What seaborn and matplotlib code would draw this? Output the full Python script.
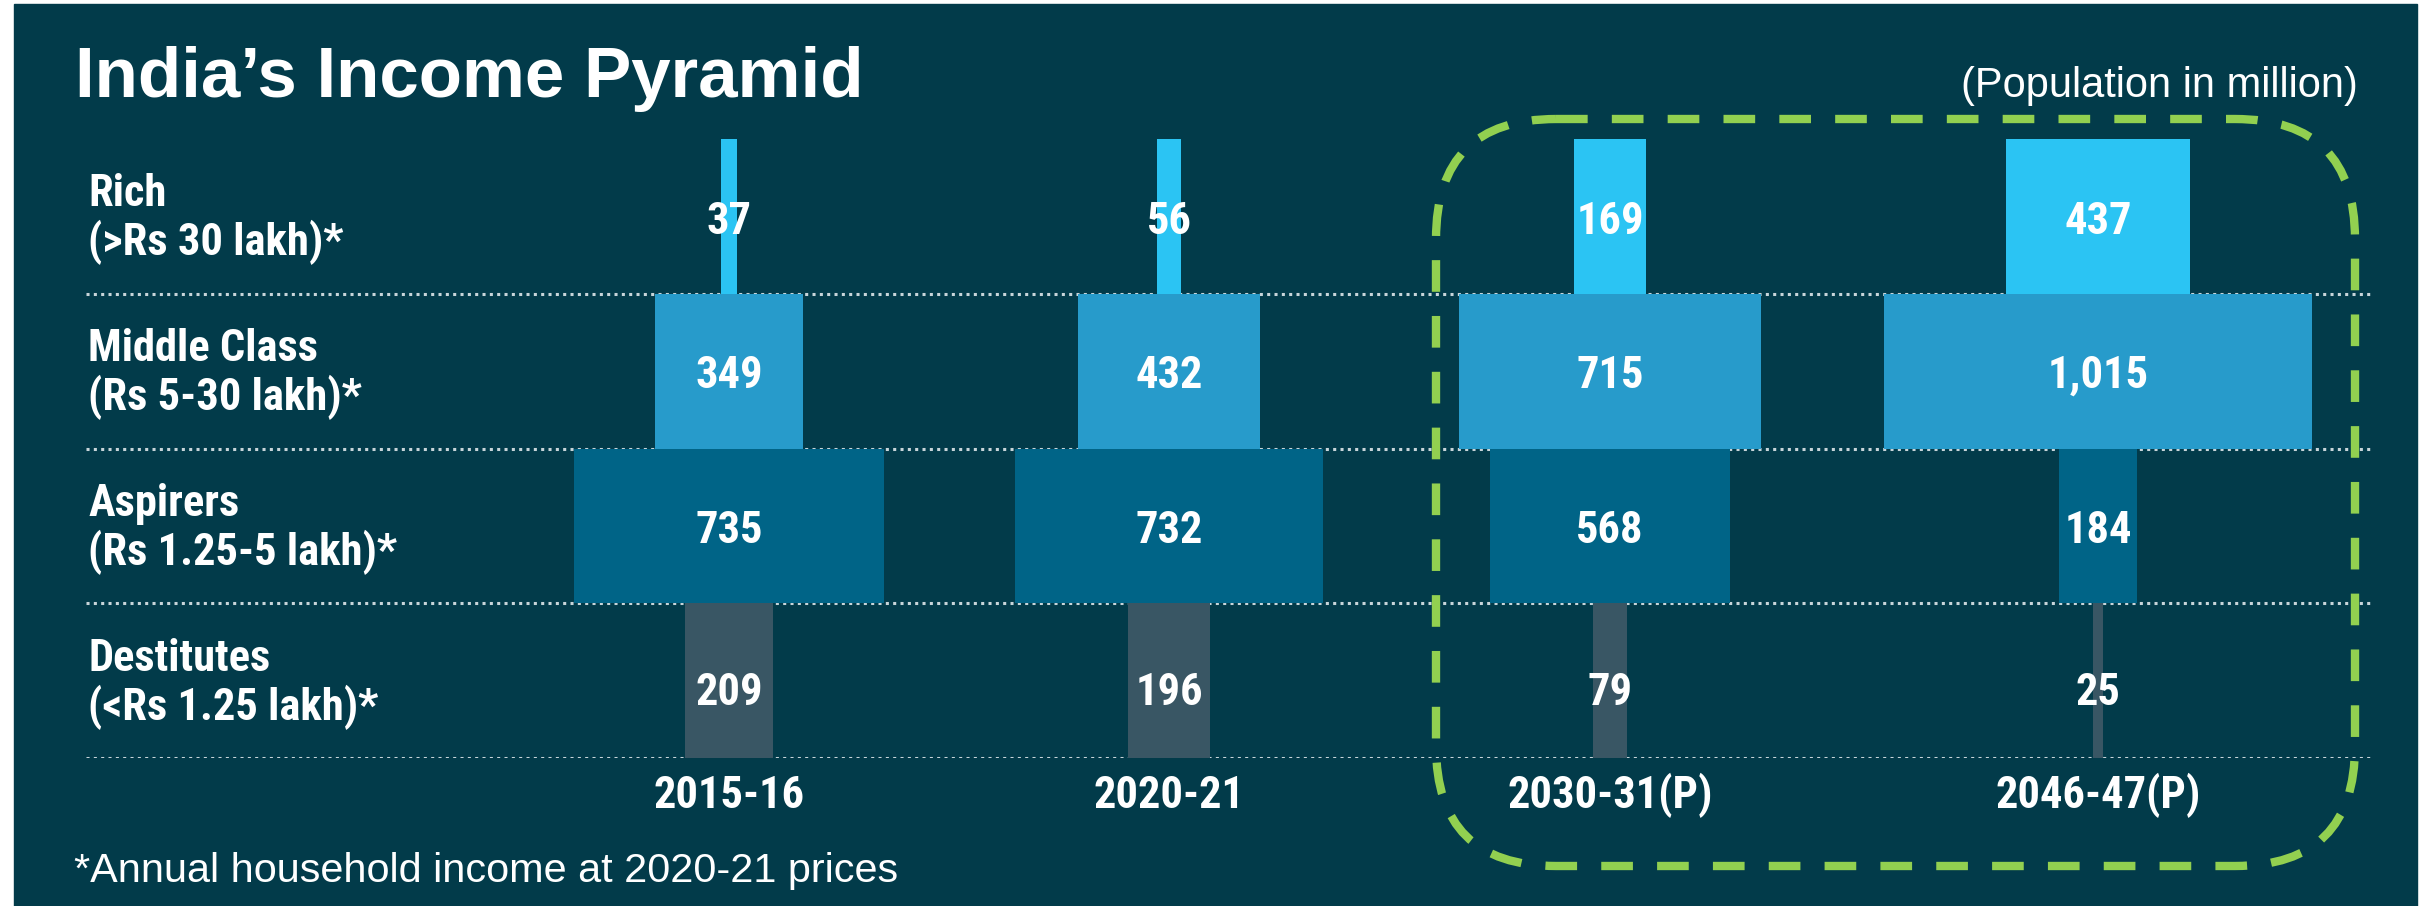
import os
import numpy as np
import matplotlib
matplotlib.use("Agg")
import matplotlib.pyplot as plt
from matplotlib.patches import FancyBboxPatch, Rectangle
from matplotlib import font_manager
from matplotlib.font_manager import FontProperties
import seaborn as sns

# ---- data (population in million)
class_names = ["Rich", "Middle Class", "Aspirers", "Destitutes"]
class_ranges = ["(>Rs 30 lakh)*", "(Rs 5-30 lakh)*", "(Rs 1.25-5 lakh)*", "(<Rs 1.25 lakh)*"]
years = ["2015-16", "2020-21", "2030-31(P)", "2046-47(P)"]
pop_2015 = [37, 349, 735, 209]
pop_2020 = [56, 432, 732, 196]
pop_2030 = [169, 715, 568, 79]
pop_2046 = [437, 1015, 184, 25]

# ---- style
bg = "#023b4a"
row_colors = ["#2bc4f3", "#279bcb", "#006487", "#395664"]
green = "#92d050"

sns.set_theme(style="white")
plt.rcParams["font.family"] = ["Liberation Sans", "DejaVu Sans"]


def pick_condensed():
    prefs = ["LiberationSansNarrow-Bold", "RobotoCondensed-Bold", "NotoSans-CondensedBold",
             "OpenSans_Condensed-Bold", "OpenSansCondensed-Bold", "DejaVuSansCondensed-Bold"]
    files = [f.fname for f in font_manager.fontManager.ttflist]
    for p in prefs:
        for fn in files:
            b = os.path.basename(fn)
            if b.startswith(p) and "Italic" not in b:
                return fn
    for f in font_manager.fontManager.ttflist:
        s = (f.name + os.path.basename(f.fname)).lower()
        if ("condensed" in s or "narrow" in s) and f.weight in (700, "bold") \
                and "italic" not in s and f.style == "normal":
            return f.fname
    return None


cond_file = pick_condensed()
if cond_file:
    lab_font = FontProperties(fname=cond_file, size=32)
else:
    lab_font = FontProperties(family="Liberation Sans", weight="bold", size=27)

W, H = 2425, 906
fig = plt.figure(figsize=(W / 100, H / 100), dpi=100, facecolor="white")
fig.patches.append(Rectangle((14 / W, 0), (2417 - 14) / W, 1 - 4 / H,
                             transform=fig.transFigure, color=bg, zorder=-10))

# main axes: x in million, rows as categories
left_px, right_px, top_px, bot_px = 86, 2372, 139, 758
row_px = (bot_px - top_px) / 4
px_per_m = 0.4217
ax = fig.add_axes([left_px / W, 1 - bot_px / H, (right_px - left_px) / W, (bot_px - top_px) / H])
ax.patch.set_alpha(0)
ax.set_xlim(0, (right_px - left_px) / px_per_m)
ax.set_ylim(3.5, -0.5)
ax.axis("off")

col_px = [729, 1169, 1610, 2098]
centers = [(p - left_px) / px_per_m for p in col_px]
rows = np.arange(len(class_names))
val_off = [18, 16.5, 17.5, 24]  # baseline offset of value labels, px

for sep in [0.5, 1.5, 2.5, 3.5]:
    ax.axhline(sep, color="#c8d5da", lw=2.2, ls=(0, (1, 1.4)), zorder=1)

for cx, yr, vals in zip(centers, years, [pop_2015, pop_2020, pop_2030, pop_2046]):
    vals = np.array(vals)
    ax.barh(rows, vals, left=cx - vals / 2, height=1.0, color=row_colors,
            linewidth=0, zorder=2)
    for r, v in zip(rows, vals):
        ax.text(cx, r + val_off[r] / row_px, f"{v:,}", ha="center", va="baseline",
                color="white", fontproperties=lab_font, zorder=3)
    ax.text(cx, 3.5 + 50 / row_px, yr, ha="center", va="baseline", color="white",
            fontproperties=lab_font)

ytr = ax.get_yaxis_transform()
for r, nm, rg in zip(rows, class_names, class_ranges):
    ax.text(0.001, r - 10 / row_px, nm, transform=ytr, ha="left", va="baseline",
            color="white", fontproperties=lab_font)
    ax.text(0.001, r + 39 / row_px, rg, transform=ytr, ha="left", va="baseline",
            color="white", fontproperties=lab_font)

# overlay in pixel units for titles and highlight box
ov = fig.add_axes([0, 0, 1, 1])
ov.patch.set_alpha(0)
ov.set_xlim(0, W)
ov.set_ylim(H, 0)
ov.axis("off")

ov.text(75, 97, "India\u2019s Income Pyramid", color="white", fontsize=51,
        fontweight="bold", ha="left", va="baseline")
ov.text(2358, 97, "(Population in million)", color="white", fontsize=30,
        ha="right", va="baseline")
ov.text(74, 882, "*Annual household income at 2020-21 prices", color="white",
        fontsize=29.8, ha="left", va="baseline")

box = FancyBboxPatch((1436, 119), 2355 - 1436, 866 - 119,
                     boxstyle="round,pad=0,rounding_size=120", fill=False,
                     ec=green, lw=6, ls=(0, (3.8, 2.9)), zorder=5)
ov.add_patch(box)

fig.savefig("out.png", dpi=100, facecolor=fig.get_facecolor())
